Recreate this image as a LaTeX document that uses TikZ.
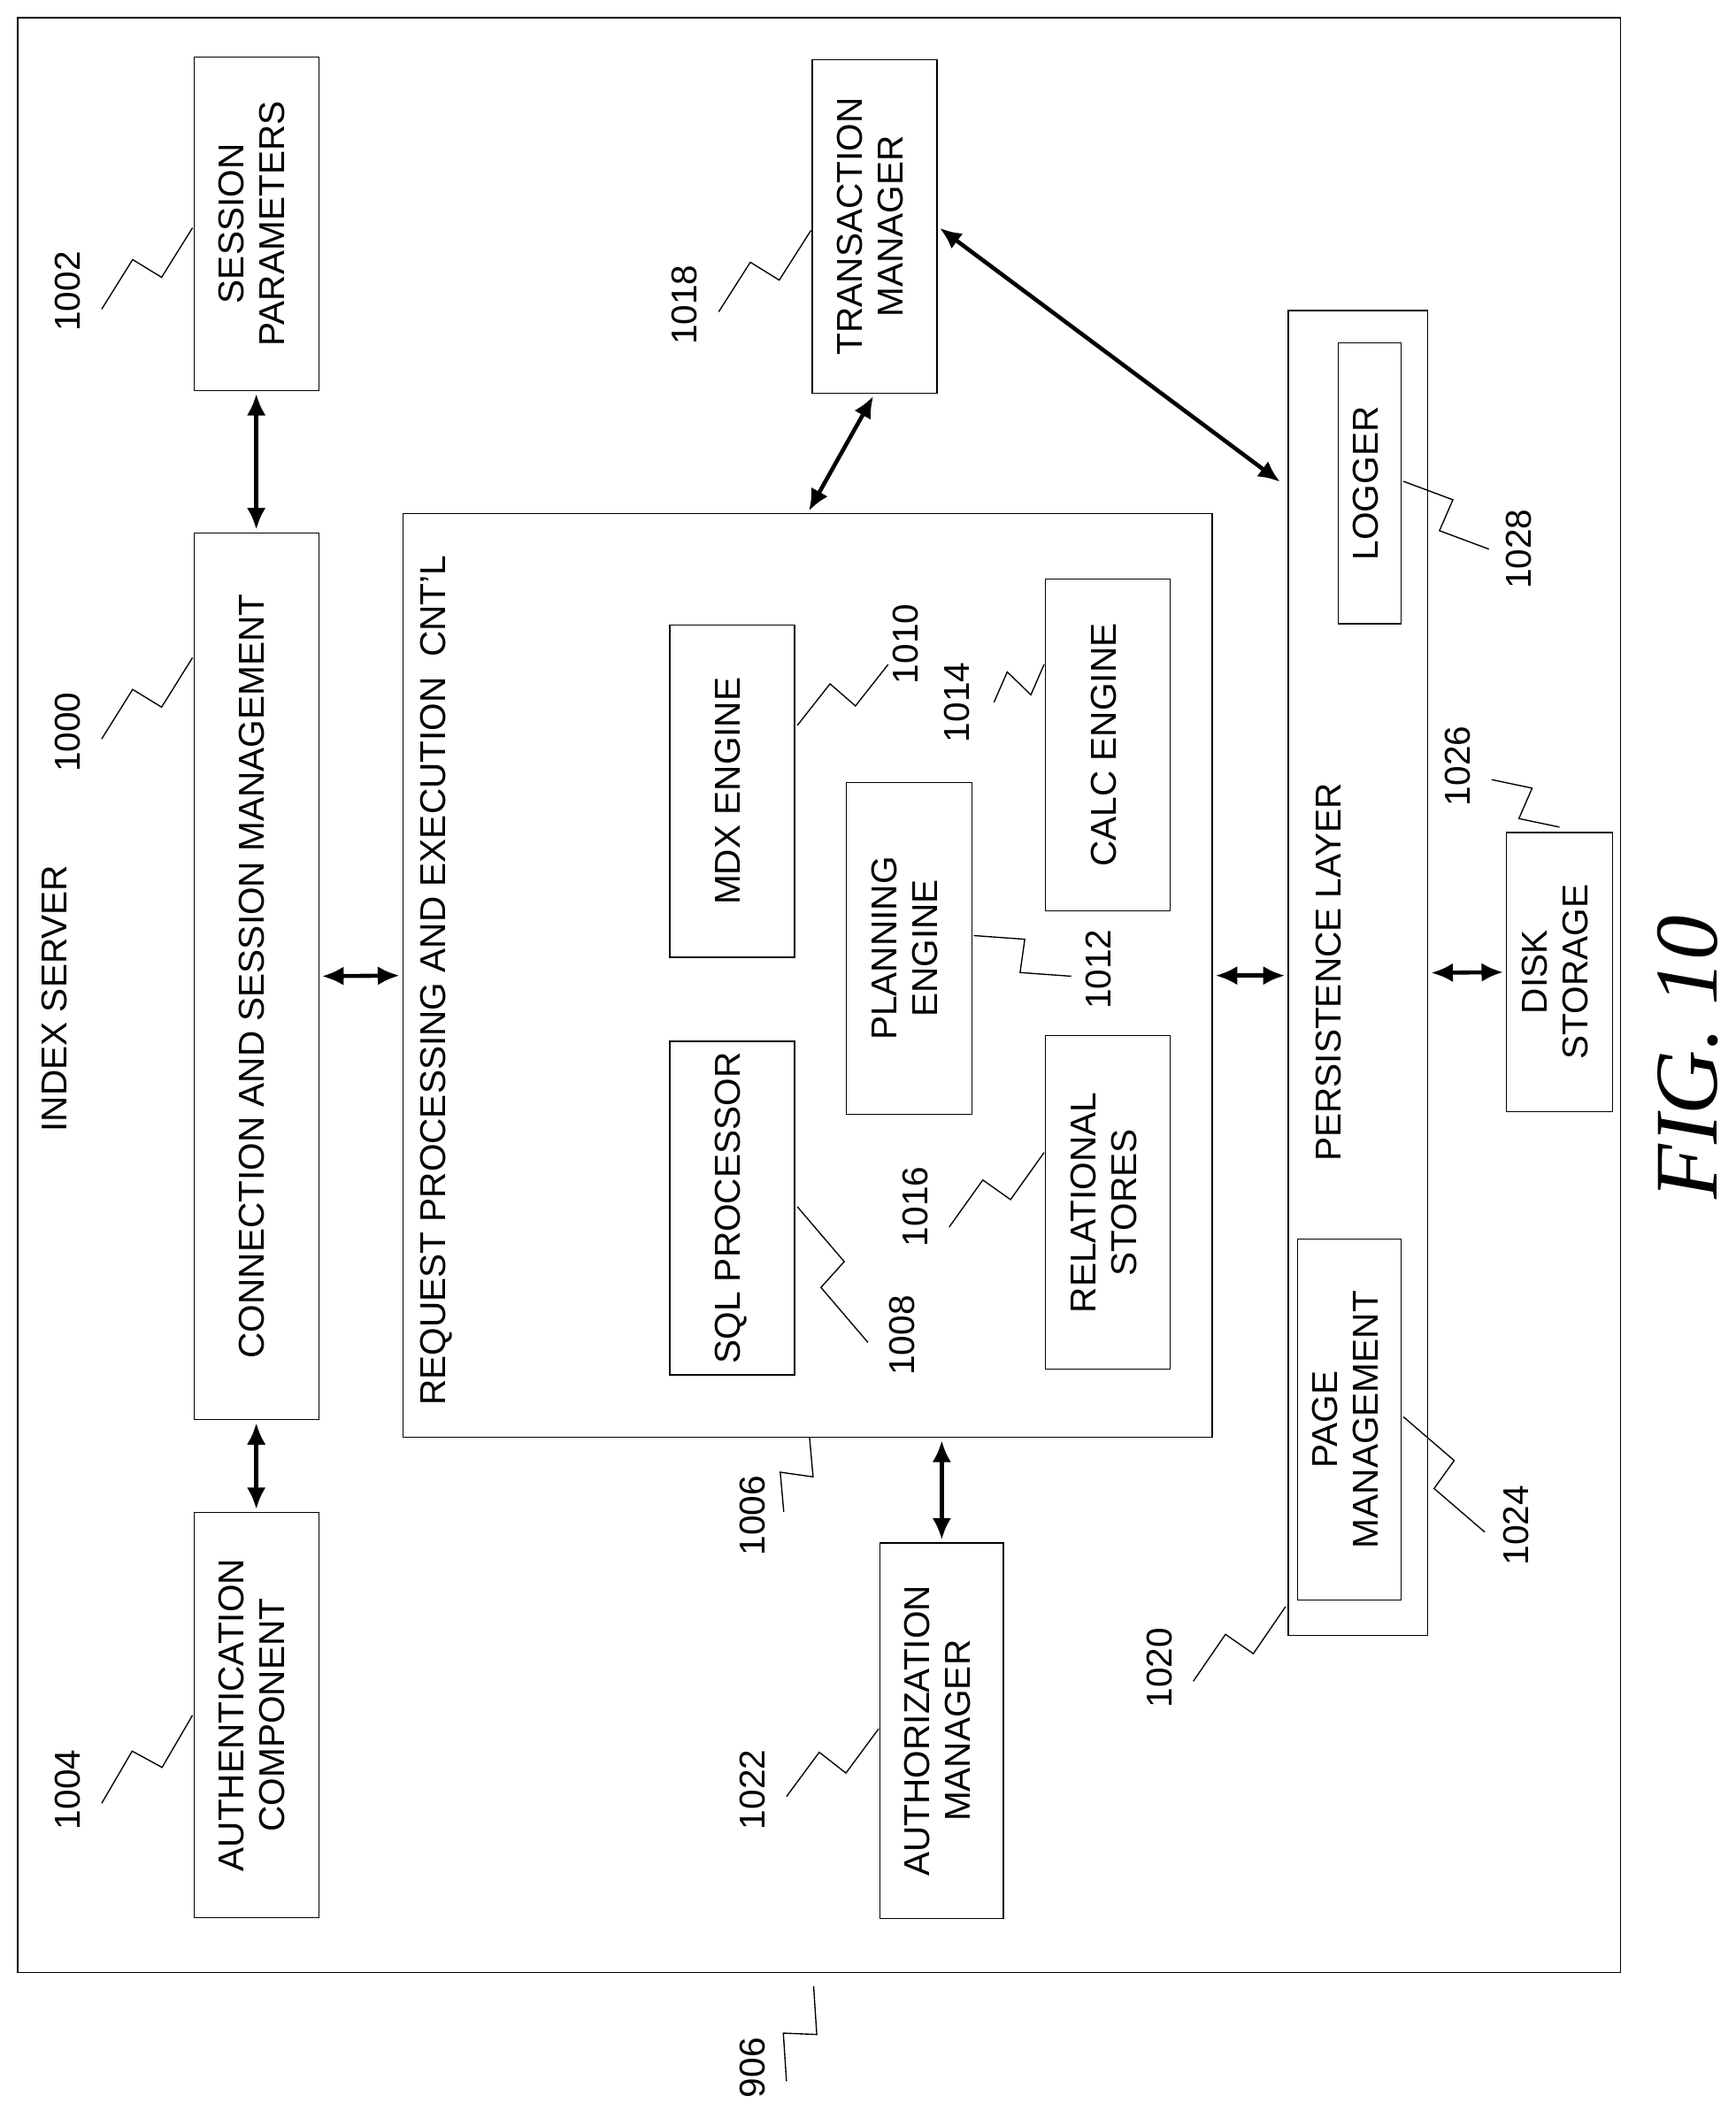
\documentclass[tikz,border=0pt]{standalone}
\usepackage{fontspec}
\setmainfont{Liberation Sans}
\newfontfamily\figfont{Liberation Serif}
\usetikzlibrary{arrows.meta,calc}

\tikzstyle{blk} = [draw, line width=0.8pt, inner sep=0pt, align=center]
\tikzstyle{lnk} = [line width=3pt, {Latex[length=16pt,width=14pt]}-{Latex[length=16pt,width=14pt]}, shorten <=2pt, shorten >=2pt]
\tikzstyle{num} = [inner sep=0pt, rotate=90]

\newcommand{\vt}[1]{\rotatebox{90}{\begin{tabular}{@{}c@{}}#1\end{tabular}}}
\newcommand{\squig}[2]{\draw[line width=0.9pt] (#1) -- ($(#1)!0.46!(#2)!12pt!90:(#2)$) -- ($(#1)!0.54!(#2)!12pt!-90:(#2)$) -- (#2);}

\begin{document}
\begin{tikzpicture}[x=1pt, y=-1pt, font=\fontsize{26.5}{30}\selectfont]
    \useasboundingbox (0,0) rectangle (1280,1568);
    \node[blk, minimum width=1182, minimum height=1442] (srv) at (604,734) {};
    \node[num, anchor=west] (srvtxt) at (40,835) {INDEX SERVER};

    % left column
    \node[blk, minimum width=92, minimum height=246] (sess) at (189,165) {\vt{SESSION\\PARAMETERS}};
    \node[blk, minimum width=92, minimum height=654] (conn) at (189,720) {\vt{CONNECTION AND SESSION MANAGEMENT}};
    \node[blk, minimum width=92, minimum height=299] (auth) at (189,1265) {\vt{AUTHENTICATION\\COMPONENT}};

    % request processing
    \node[blk, minimum width=597, minimum height=681] (req) at (595.5,719.5) {};
    \node[num, anchor=west] (reqtxt) at (322,1037) {REQUEST PROCESSING AND EXECUTION\ \ CNT'L};
    \node[blk, minimum width=92, minimum height=245] (mdx) at (540,583.5) {\vt{MDX ENGINE}};
    \node[blk, minimum width=92, minimum height=246] (sql) at (540,891) {\vt{SQL PROCESSOR}};
    \node[blk, minimum width=93, minimum height=245] (plan) at (670.5,699.5) {\vt{PLANNING\\ENGINE}};
    \node[blk, minimum width=92, minimum height=245] (calc) at (817,549.5) {\vt{CALC ENGINE}};
    \node[blk, minimum width=92, minimum height=246] (rel) at (817,887) {\vt{RELATIONAL\\STORES}};

    % managers
    \node[blk, minimum width=92, minimum height=246] (trans) at (645,167) {\vt{TRANSACTION\\MANAGER}};
    \node[blk, minimum width=91, minimum height=277] (authz) at (694.5,1276.5) {\vt{AUTHORIZATION\\MANAGER}};

    % persistence
    \node[blk, minimum width=103, minimum height=977] (pers) at (1001.5,717.5) {};
    \node[num] (perstxt) at (980,717) {PERSISTENCE LAYER};
    \node[blk, minimum width=46, minimum height=207] (log) at (1010,356.5) {\vt{LOGGER}};
    \node[blk, minimum width=76, minimum height=266] (page) at (995,1047) {\vt{PAGE\\MANAGEMENT}};
    \node[blk, minimum width=78, minimum height=206] (disk) at (1150,717) {\vt{DISK\\STORAGE}};

    % connectors
    \draw[lnk] (sess.south) -- (conn.north);
    \draw[lnk] (conn.south) -- (auth.north);
    \draw[lnk] (conn.east) -- (req.west);
    \draw[lnk] (req.north) -- (trans.south);
    \draw[lnk] (trans.east) -- ($(pers.north west)+(-4,128)$);
    \draw[lnk] (req.south -| authz.north) -- (authz.north);
    \draw[lnk] (req.east) -- (pers.west |- req.east);
    \draw[lnk] (pers.east) -- (disk.west);

    % reference numerals
    \node[num] (n1002) at (50,215) {1002};   \squig{75,228}{142,168}
    \node[num] (n1000) at (50,540) {1000};   \squig{75,545}{142,485}
    \node[num] (n1004) at (50,1320) {1004};  \squig{75,1330}{142,1265}
    \node[num] (n1018) at (505,225) {1018};  \squig{530,230}{598,170}
    \node[num] (n1006) at (555,1118) {1006}; \squig{578,1115}{597,1060}
    \node[num] (n1022) at (555,1320) {1022}; \squig{580,1325}{648,1275}
    \node[num] (n1008) at (665,985) {1008};  \squig{640,990}{588,890}
    \node[num] (n1010) at (668,475) {1010};  \squig{588,535}{655,490}
    \node[num] (n1014) at (706,518) {1014};  \squig{733,518}{770,490}
    \node[num] (n1012) at (810,715) {1012};  \squig{718,690}{790,720}
    \node[num] (n1016) at (675,890) {1016};  \squig{700,905}{770,850}
    \node[num] (n1020) at (855,1230) {1020}; \squig{880,1240}{948,1185}
    \node[num] (n1024) at (1118,1125) {1024};\squig{1095,1130}{1035,1045}
    \node[num] (n1028) at (1120,405) {1028}; \squig{1098,405}{1035,355}
    \node[num] (n1026) at (1075,565) {1026}; \squig{1100,575}{1150,610}
    \node[num] (n906) at (555,1525) {906};   \squig{580,1535}{600,1465}

    \node[num, font=\figfont\itshape\fontsize{66}{70}\selectfont] (fig) at (1245,780) {FIG. 10};
\end{tikzpicture}
\end{document}
